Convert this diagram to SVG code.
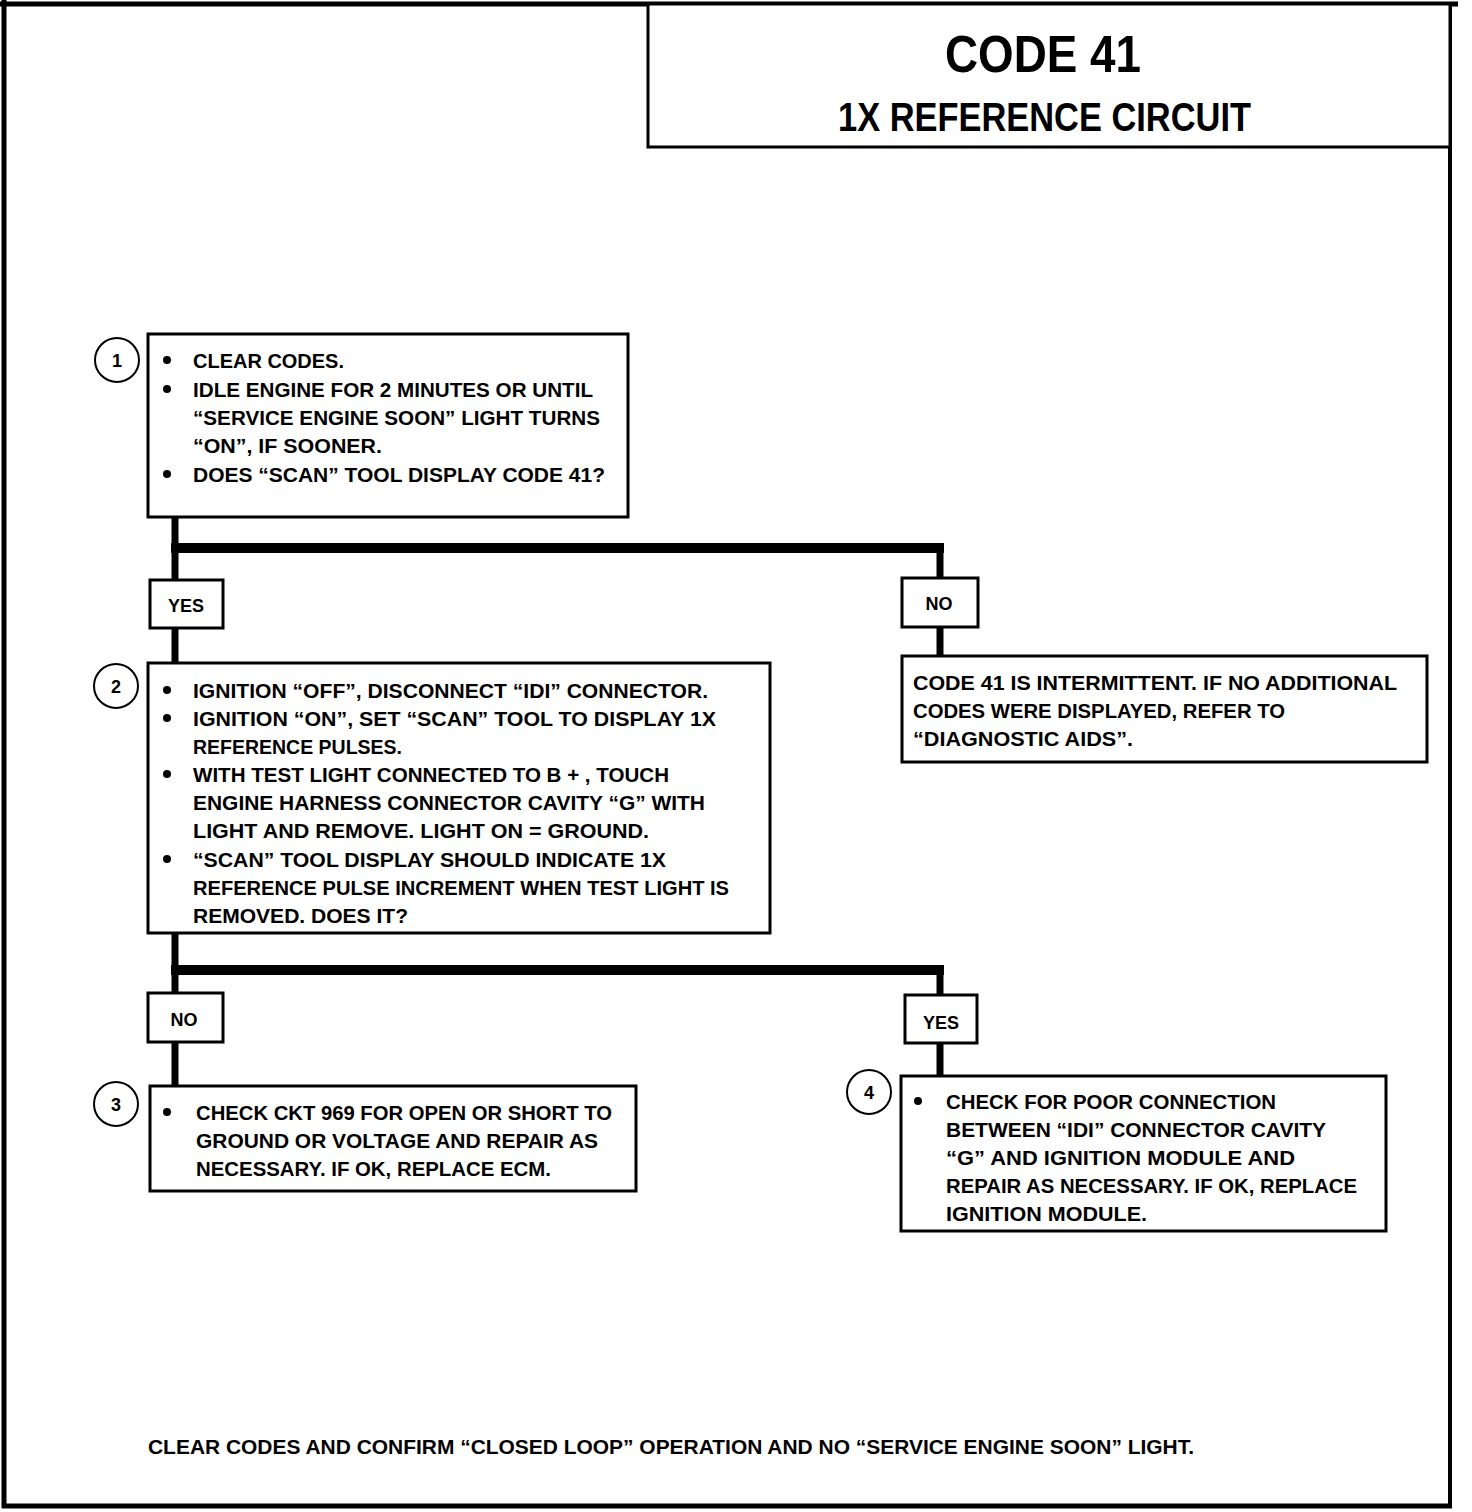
<svg xmlns="http://www.w3.org/2000/svg" width="1472" height="1512" viewBox="0 0 1472 1512">
<style>
text{font-family:"Liberation Sans",Arial,sans-serif;font-weight:bold;fill:#000}
.t{font-size:20px}
.lbl{font-size:18px}
.box{fill:#fff;stroke:#000;stroke-width:3}
.circ{fill:#fff;stroke:#000;stroke-width:2}
.num{font-size:18px;text-anchor:middle}
.v{stroke:#000;stroke-width:7;fill:none}
.h{stroke:#000;stroke-width:10;fill:none}
</style>
<rect width="1472" height="1512" fill="#fff"/>
<g id="frame">
<line x1="0" y1="4" x2="1458" y2="4" stroke="#000" stroke-width="5"/>
<line x1="4" y1="0" x2="4" y2="1508" stroke="#000" stroke-width="5"/>
<line x1="1450" y1="2" x2="1450" y2="1508" stroke="#000" stroke-width="4"/>
<line x1="2" y1="1506" x2="1452" y2="1506" stroke="#000" stroke-width="5"/>
</g>
<g id="title">
<rect x="648" y="4" width="802" height="143" fill="#fff" stroke="#000" stroke-width="3"/>
<text x="945" y="72" font-size="52" textLength="196" lengthAdjust="spacingAndGlyphs">CODE 41</text>
<text x="838" y="131" font-size="40" textLength="413" lengthAdjust="spacingAndGlyphs">1X REFERENCE CIRCUIT</text>
</g>
<g id="connectors">
<line class="v" x1="175" y1="517" x2="175" y2="548"/>
<line class="h" x1="171" y1="548" x2="944" y2="548"/>
<line class="v" x1="940" y1="543" x2="940" y2="578"/>
<line class="v" x1="175" y1="548" x2="175" y2="580"/>
<line class="v" x1="175" y1="628" x2="175" y2="663"/>
<line class="v" x1="940" y1="627" x2="940" y2="656"/>
<line class="v" x1="175" y1="933" x2="175" y2="970"/>
<line class="h" x1="171" y1="970" x2="944" y2="970"/>
<line class="v" x1="175" y1="970" x2="175" y2="993"/>
<line class="v" x1="940" y1="965" x2="940" y2="995"/>
<line class="v" x1="175" y1="1042" x2="175" y2="1086"/>
<line class="v" x1="940" y1="1043" x2="940" y2="1076"/>
</g>
<g id="yes1">
<rect class="box" x="150" y="580" width="73" height="48"/>
<text class="lbl" x="186" y="612" text-anchor="middle">YES</text>
</g>
<g id="no1">
<rect class="box" x="902" y="578" width="76" height="49"/>
<text class="lbl" x="939" y="610" text-anchor="middle">NO</text>
</g>
<g id="no2">
<rect class="box" x="148" y="993" width="75" height="49"/>
<text class="lbl" x="184" y="1026" text-anchor="middle">NO</text>
</g>
<g id="yes2">
<rect class="box" x="905" y="995" width="72" height="48"/>
<text class="lbl" x="941" y="1029" text-anchor="middle">YES</text>
</g>
<g id="step1">
<circle class="circ" cx="117" cy="360" r="22"/>
<text class="num" x="117" y="367">1</text>
<rect class="box" x="148" y="334" width="480" height="183"/>
<circle cx="167" cy="360" r="4"/><circle cx="167" cy="389" r="4"/><circle cx="167" cy="474" r="4"/>
<text class="t" x="193" y="368" textLength="151" lengthAdjust="spacingAndGlyphs">CLEAR CODES.</text>
<text class="t" x="193" y="397" textLength="400" lengthAdjust="spacingAndGlyphs">IDLE ENGINE FOR 2 MINUTES OR UNTIL</text>
<text class="t" x="193" y="425" textLength="407" lengthAdjust="spacingAndGlyphs">“SERVICE ENGINE SOON” LIGHT TURNS</text>
<text class="t" x="193" y="453" textLength="189" lengthAdjust="spacingAndGlyphs">“ON”, IF SOONER.</text>
<text class="t" x="193" y="482" textLength="412" lengthAdjust="spacingAndGlyphs">DOES “SCAN” TOOL DISPLAY CODE 41?</text>
</g>
<g id="step2">
<circle class="circ" cx="116" cy="686" r="22"/>
<text class="num" x="116" y="693">2</text>
<rect class="box" x="148" y="663" width="622" height="270"/>
<circle cx="167" cy="690" r="4"/><circle cx="167" cy="718" r="4"/><circle cx="167" cy="774" r="4"/><circle cx="167" cy="859" r="4"/>
<text class="t" x="193" y="698" textLength="515" lengthAdjust="spacingAndGlyphs">IGNITION “OFF”, DISCONNECT “IDI” CONNECTOR.</text>
<text class="t" x="193" y="726" textLength="523" lengthAdjust="spacingAndGlyphs">IGNITION “ON”, SET “SCAN” TOOL TO DISPLAY 1X</text>
<text class="t" x="193" y="754" textLength="209" lengthAdjust="spacingAndGlyphs">REFERENCE PULSES.</text>
<text class="t" x="193" y="782" textLength="476" lengthAdjust="spacingAndGlyphs">WITH TEST LIGHT CONNECTED TO B + , TOUCH</text>
<text class="t" x="193" y="810" textLength="512" lengthAdjust="spacingAndGlyphs">ENGINE HARNESS CONNECTOR CAVITY “G” WITH</text>
<text class="t" x="193" y="838" textLength="456" lengthAdjust="spacingAndGlyphs">LIGHT AND REMOVE. LIGHT ON  =  GROUND.</text>
<text class="t" x="193" y="867" textLength="473" lengthAdjust="spacingAndGlyphs">“SCAN” TOOL DISPLAY SHOULD INDICATE 1X</text>
<text class="t" x="193" y="895" textLength="536" lengthAdjust="spacingAndGlyphs">REFERENCE PULSE INCREMENT WHEN TEST LIGHT IS</text>
<text class="t" x="193" y="923" textLength="215" lengthAdjust="spacingAndGlyphs">REMOVED. DOES IT?</text>
</g>
<g id="intermittent">
<rect class="box" x="902" y="656" width="525" height="106"/>
<text class="t" x="913" y="690" textLength="484" lengthAdjust="spacingAndGlyphs">CODE 41 IS INTERMITTENT.  IF NO ADDITIONAL</text>
<text class="t" x="913" y="718" textLength="372" lengthAdjust="spacingAndGlyphs">CODES WERE DISPLAYED, REFER TO</text>
<text class="t" x="913" y="746" textLength="220" lengthAdjust="spacingAndGlyphs">“DIAGNOSTIC AIDS”.</text>
</g>
<g id="step3">
<circle class="circ" cx="116" cy="1104" r="22"/>
<text class="num" x="116" y="1111">3</text>
<rect class="box" x="150" y="1086" width="486" height="105"/>
<circle cx="167" cy="1112" r="4"/>
<text class="t" x="196" y="1120" textLength="416" lengthAdjust="spacingAndGlyphs">CHECK CKT 969 FOR OPEN OR SHORT TO</text>
<text class="t" x="196" y="1148" textLength="402" lengthAdjust="spacingAndGlyphs">GROUND OR VOLTAGE AND REPAIR AS</text>
<text class="t" x="196" y="1176" textLength="355" lengthAdjust="spacingAndGlyphs">NECESSARY.  IF OK, REPLACE ECM.</text>
</g>
<g id="step4">
<circle class="circ" cx="869" cy="1092" r="22"/>
<text class="num" x="869" y="1099">4</text>
<rect class="box" x="901" y="1076" width="485" height="155"/>
<circle cx="918" cy="1101" r="4"/>
<text class="t" x="946" y="1109" textLength="330" lengthAdjust="spacingAndGlyphs">CHECK FOR POOR CONNECTION</text>
<text class="t" x="946" y="1137" textLength="380" lengthAdjust="spacingAndGlyphs">BETWEEN “IDI” CONNECTOR CAVITY</text>
<text class="t" x="946" y="1165" textLength="349" lengthAdjust="spacingAndGlyphs">“G” AND IGNITION MODULE AND</text>
<text class="t" x="946" y="1193" textLength="411" lengthAdjust="spacingAndGlyphs">REPAIR AS NECESSARY.  IF OK, REPLACE</text>
<text class="t" x="946" y="1221" textLength="201" lengthAdjust="spacingAndGlyphs">IGNITION MODULE.</text>
</g>
<g id="footer">
<text class="t" x="148" y="1454" textLength="1046" lengthAdjust="spacingAndGlyphs">CLEAR CODES AND CONFIRM  “CLOSED LOOP” OPERATION AND NO “SERVICE ENGINE SOON” LIGHT.</text>
</g>
</svg>
